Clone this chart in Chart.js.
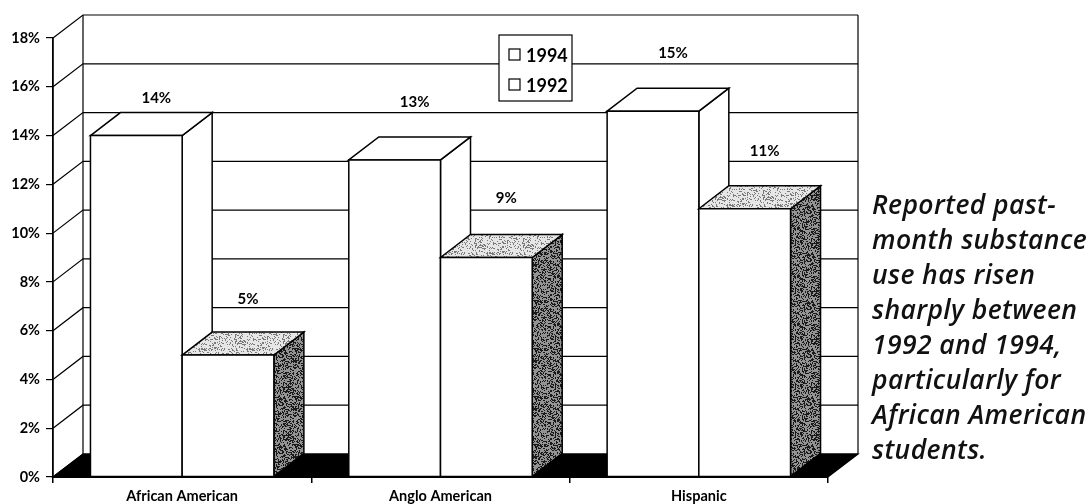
<!DOCTYPE html>
<html>
<head>
<meta charset="utf-8">
<title>Past-month substance use</title>
<script src="https://cdn.jsdelivr.net/npm/chart.js@4.4.1/dist/chart.umd.min.js"></script>
<style>
html,body{margin:0;padding:0;background:#fff;}
.wrap{position:relative;width:1089px;height:504px;overflow:hidden;}
#chart{position:absolute;left:0;top:0;}
.note{position:absolute;left:872px;top:187px;font-family:"Open Sans","DejaVu Sans",sans-serif;font-style:italic;font-weight:600;font-size:26.5px;letter-spacing:0.4px;line-height:35px;color:#111;white-space:nowrap;}
</style>
</head>
<body>
<div class="wrap">
  <canvas id="chart" width="1089" height="504"></canvas>
  <div class="note">Reported past-<br>month substance<br>use has risen<br>sharply between<br>1992 and 1994,<br>particularly for<br>African American<br>students.</div>
</div>
<script>
// data
var categories = ["African American", "Anglo American", "Hispanic"];
var seriesNames = ["1994", "1992"];
var values1994 = [14, 13, 15];
var values1992 = [5, 9, 11];
var yMax = 18;
var yStep = 2;

// 3d look: how far the back plane is shifted
var depthX = 30, depthY = -23;
// how high each value label sits above the back edge of its bar top
var labelLift = [[14, 35, 35], [33, 36, 35]];

// deterministic speckle texture for the shaded faces
function stipple(ctx, base, dot, amount) {
    var c = document.createElement("canvas");
    c.width = c.height = 48;
    var g = c.getContext("2d");
    g.fillStyle = base;
    g.fillRect(0, 0, 48, 48);
    g.fillStyle = dot;
    for (var i = 0; i < 48; i++) {
        for (var j = 0; j < 48; j++) {
            var h = Math.sin(i * 12.9898 + j * 78.233) * 43758.5453;
            h -= Math.floor(h);
            if (h < amount) g.fillRect(i, j, 1, 1);
        }
    }
    return ctx.createPattern(c, "repeat");
}

function poly(ctx, pts, fill) {
    ctx.beginPath();
    ctx.moveTo(pts[0][0], pts[0][1]);
    for (var i = 1; i < pts.length; i++) ctx.lineTo(pts[i][0], pts[i][1]);
    ctx.closePath();
    if (fill) { ctx.fillStyle = fill; ctx.fill(); }
    ctx.stroke();
}

var box3d = {
    id: "box3d",
    afterDatasetsDraw: function(chart) {
        var ctx = chart.ctx, a = chart.chartArea, ys = chart.scales.y;
        var L = a.left, R = a.right, T = a.top, B = a.bottom;
        ctx.save();
        ctx.strokeStyle = "#000";
        ctx.lineJoin = "miter";

        // left wall + back wall
        ctx.lineWidth = 1.2;
        for (var v = 0; v <= yMax; v += yStep) {
            var py = ys.getPixelForValue(v);
            ctx.beginPath();
            ctx.moveTo(L, py);
            ctx.lineTo(L + depthX, py + depthY);
            ctx.lineTo(R + depthX, py + depthY);
            ctx.stroke();
        }
        ctx.beginPath();
        ctx.moveTo(L + depthX, T + depthY);
        ctx.lineTo(L + depthX, B + depthY);
        ctx.moveTo(R + depthX, T + depthY);
        ctx.lineTo(R + depthX, B + depthY);
        ctx.moveTo(L, T);
        ctx.lineTo(L, B);
        ctx.stroke();

        // black floor
        poly(ctx, [[L, B], [R, B], [R + depthX, B + depthY], [L + depthX, B + depthY]], "#000");

        var topFill = [ "#fff", stipple(ctx, "#e6e6e6", "#7a7a7a", 0.25) ];
        var sideFill = [ "#fff", stipple(ctx, "#949494", "#1a1a1a", 0.42) ];

        ctx.lineWidth = 1.5;
        for (var i = 0; i < categories.length; i++) {
            for (var d = 0; d < chart.data.datasets.length; d++) {
                var el = chart.getDatasetMeta(d).data[i];
                var l = el.x - el.width / 2, r = el.x + el.width / 2, t = el.y, b = el.base;
                poly(ctx, [[r, t], [r + depthX, t + depthY], [r + depthX, b + depthY], [r, b]], sideFill[d]);
                poly(ctx, [[l, t], [l + depthX, t + depthY], [r + depthX, t + depthY], [r, t]], topFill[d]);
                poly(ctx, [[l, t], [r, t], [r, b], [l, b]], "#fff");
            }
        }

        // value labels
        ctx.fillStyle = "#000";
        ctx.font = "bold 15px Lato, 'DejaVu Sans', sans-serif";
        ctx.textAlign = "center";
        ctx.textBaseline = "middle";
        for (var d2 = 0; d2 < chart.data.datasets.length; d2++) {
            var meta = chart.getDatasetMeta(d2);
            meta.data.forEach(function(el, k) {
                var val = chart.data.datasets[d2].data[k];
                ctx.fillText(val + "%", el.x + 20, el.y + depthY - labelLift[d2][k]);
            });
        }

        // legend box
        var lx = 499, ly = 35, lw = 73, lh = 66;
        ctx.lineWidth = 1.2;
        ctx.fillStyle = "#fff";
        ctx.fillRect(lx, ly, lw, lh);
        ctx.strokeRect(lx, ly, lw, lh);
        ctx.font = "bold 18px Lato, 'DejaVu Sans', sans-serif";
        ctx.textAlign = "left";
        seriesNames.forEach(function(name, n) {
            var cy = ly + 20 + n * 30;
            ctx.fillStyle = "#fff";
            ctx.fillRect(509, cy - 6, 11, 11);
            ctx.strokeRect(509, cy - 6, 11, 11);
            ctx.fillStyle = "#000";
            ctx.fillText(name, 526, cy + 1);
        });
        ctx.restore();
    }
};

new Chart(document.getElementById("chart"), {
    type: "bar",
    data: {
        labels: categories,
        datasets: [
            { label: seriesNames[0], data: values1994 },
            { label: seriesNames[1], data: values1992 }
        ]
    },
    options: {
        responsive: false,
        animation: false,
        devicePixelRatio: 1,
        layout: { padding: { top: 38, right: 261, left: 0, bottom: 0 } },
        datasets: {
            bar: {
                backgroundColor: "rgba(0,0,0,0)",
                borderWidth: 0,
                categoryPercentage: 0.71,
                barPercentage: 1
            }
        },
        plugins: { legend: { display: false }, tooltip: { enabled: false } },
        scales: {
            x: {
                grid: { offset: true, drawOnChartArea: false, tickLength: 6, color: "#000", lineWidth: 1.5 },
                border: { color: "#000", width: 2 },
                ticks: { color: "#000", padding: 5, font: { family: "Lato", size: 14.5, weight: "bold" } },
                afterFit: function(s) { s.height = 27; }
            },
            y: {
                min: 0,
                max: yMax,
                grid: { drawOnChartArea: false, tickLength: 7, color: "#000", lineWidth: 1.2 },
                border: { color: "#000", width: 1.5 },
                ticks: {
                    stepSize: yStep,
                    color: "#000",
                    padding: 6,
                    font: { family: "Lato", size: 14.5, weight: "bold" },
                    callback: function(v) { return v + "%"; }
                },
                afterFit: function(s) { s.width = 53; }
            }
        }
    },
    plugins: [box3d]
});
</script>
</body>
</html>
